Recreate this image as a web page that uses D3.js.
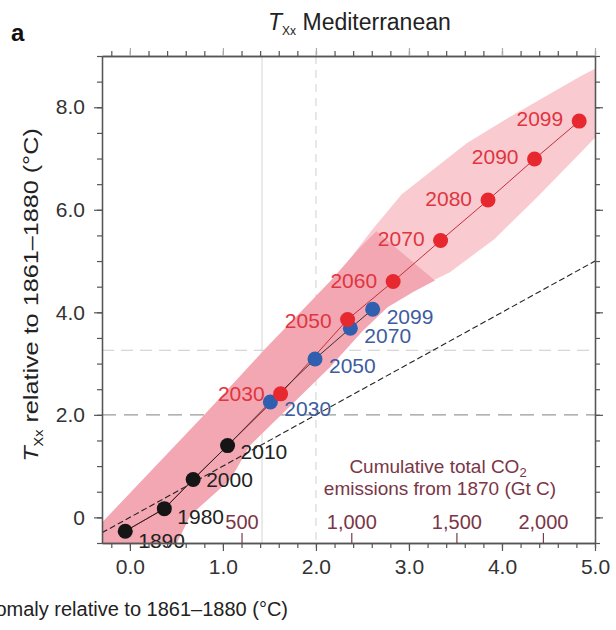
<!DOCTYPE html>
<html>
<head>
<meta charset="utf-8">
<script src="https://cdn.jsdelivr.net/npm/d3@7"></script>
<style>
  body { margin: 0; background: #fff; }
  svg { display: block; font-family: "Liberation Sans", Arial, sans-serif; }
</style>
</head>
<body>
<svg id="chart" width="616" height="630"></svg>
<script>
// historical points (black)
const histYears = ["1890", "1980", "2000", "2010"];
const histX = [-0.05, 0.37, 0.68, 1.05];
const histY = [-0.27, 0.17, 0.74, 1.40];

// high emission scenario (red)
const redYears = ["2030", "2050", "2060", "2070", "2080", "2090", "2099"];
const redX = [1.62, 2.34, 2.83, 3.34, 3.85, 4.35, 4.83];
const redY = [2.41, 3.86, 4.60, 5.40, 6.19, 6.99, 7.73];

// low emission scenario (blue)
const blueYears = ["2030", "2050", "2070", "2099"];
const blueX = [1.51, 1.99, 2.37, 2.61];
const blueY = [2.25, 3.09, 3.69, 4.06];

// model spread, historical + low part (saturated pink)
const satUpX = [-0.30, 0.81, 1.45, 2.15, 2.45, 2.65];
const satUpY = [-0.10, 2.02, 3.28, 4.60, 5.22, 5.58];
const satLoX = [-0.30, 0.48, 0.65, 1.08, 1.29, 2.15, 2.50, 2.77, 3.05, 3.28];
const satLoY = [-0.70, -0.60, 0.04, 0.74, 1.40, 2.93, 3.63, 4.10, 4.40, 4.62];

// model spread, high emission part (light pink)
const hiUpX = [2.31, 2.60, 2.92, 3.62, 4.12, 4.84, 5.05];
const hiUpY = [4.91, 5.60, 6.30, 7.30, 7.85, 8.60, 8.80];
const hiLoX = [3.10, 3.44, 3.92, 4.37, 4.80, 5.05];
const hiLoY = [4.48, 4.78, 5.43, 6.23, 7.03, 7.50];

// cumulative CO2 secondary scale (position on the temperature axis)
const co2Labels = ["500", "1,000", "1,500", "2,000"];
const co2AtT = [1.20, 2.38, 3.51, 4.44];

// reference lines
const refVx = [1.42, 2.0];
const refHy = [2.0, 3.26];

const xMajor = [0, 1, 2, 3, 4, 5];
const yMajor = [0, 2, 4, 6, 8];

const svg = d3.select("#chart");
const x = d3.scaleLinear().domain([-0.3, 5.0]).range([102, 595]);
const y = d3.scaleLinear().domain([-0.5, 9.0]).range([543, 56]);
const [x0, x1] = x.range();
const [yb, yt] = y.range();

const pts = (xs, ys) => xs.map((v, i) => [v, ys[i]]);

svg.append("defs").append("clipPath").attr("id", "plot")
  .append("rect").attr("x", x0).attr("y", yt).attr("width", x1 - x0).attr("height", yb - yt);

const plot = svg.append("g").attr("clip-path", "url(#plot)");

// reference lines
plot.append("line")
  .attr("x1", x(refVx[0])).attr("x2", x(refVx[0])).attr("y1", yt).attr("y2", yb)
  .attr("stroke", "#dcdcdc").attr("stroke-width", 1.2);
plot.append("line")
  .attr("x1", x(refVx[1])).attr("x2", x(refVx[1])).attr("y1", yt).attr("y2", yb)
  .attr("stroke", "#d8d8d8").attr("stroke-width", 1.2).attr("stroke-dasharray", "8,6");
plot.append("line")
  .attr("x1", x0).attr("x2", x1).attr("y1", y(refHy[0])).attr("y2", y(refHy[0]))
  .attr("stroke", "#9a9a9a").attr("stroke-width", 1.3).attr("stroke-dasharray", "14,8");
plot.append("line")
  .attr("x1", x0).attr("x2", x1).attr("y1", y(refHy[1])).attr("y2", y(refHy[1]))
  .attr("stroke", "#cacaca").attr("stroke-width", 1.2).attr("stroke-dasharray", "12,7");

// spread bands
const line = d3.line().x(d => x(d[0])).y(d => y(d[1]));
const poly = (ux, uy, lx, ly) => pts(ux, uy).concat(pts(lx, ly).reverse());

plot.append("path")
  .attr("d", line(poly(hiUpX, hiUpY, hiLoX, hiLoY)) + "Z")
  .attr("fill", "#f9cbd1");
plot.append("path")
  .attr("d", line(poly(satUpX, satUpY, satLoX, satLoY)) + "Z")
  .attr("fill", "#f3a7b3");

// 1:1 line
plot.append("line")
  .attr("x1", x(-0.3)).attr("y1", y(-0.3)).attr("x2", x(5)).attr("y2", y(5))
  .attr("stroke", "#222").attr("stroke-width", 1.1).attr("stroke-dasharray", "6,3");

// connecting lines
const histPts = pts(histX, histY);
plot.append("path")
  .attr("d", line(histPts.concat(pts(redX, redY))))
  .attr("fill", "none").attr("stroke", "#c2303a").attr("stroke-width", 1);
plot.append("path")
  .attr("d", line(histPts.slice(-1).concat(pts(blueX, blueY))))
  .attr("fill", "none").attr("stroke", "#333").attr("stroke-width", 1);
plot.append("path")
  .attr("d", line(histPts))
  .attr("fill", "none").attr("stroke", "#222").attr("stroke-width", 1);

// points + labels
function drawSeries(xs, ys, names, fill, textFill, place) {
  const g = svg.append("g");
  g.selectAll("circle").data(xs).join("circle")
    .attr("cx", (d) => x(d)).attr("cy", (d, i) => y(ys[i]))
    .attr("r", 7.5).attr("fill", fill);
  g.selectAll("text").data(names).join("text")
    .attr("x", (d, i) => x(xs[i]) + place.dx)
    .attr("y", (d, i) => y(ys[i]) + (place.dy[i] ?? place.dy[0]))
    .attr("dy", "0.35em")
    .attr("text-anchor", place.anchor)
    .attr("font-size", 21)
    .attr("fill", textFill)
    .text((d) => d);
}

drawSeries(histX, histY, histYears, "#151515", "#222", { dx: 13, dy: [9, 8, 0, 6], anchor: "start" });
drawSeries(blueX, blueY, blueYears, "#2f5fae", "#3e5c9f", { dx: 14, dy: [7], anchor: "start" });
drawSeries(redX, redY, redYears, "#e8282f", "#e0353f", { dx: -16, dy: [0, 1, -1, -2, -1, -2, -2], anchor: "end" });

// axes
const fmtY = (d) => (d === 0 ? "0" : d.toFixed(1));
const styleAxis = (g) => {
  g.select(".domain").attr("stroke", "#555").attr("stroke-width", 1.3);
  g.selectAll(".tick line").attr("stroke", "#555").attr("stroke-width", 1.2);
  g.selectAll(".tick text").attr("fill", "#333").attr("font-size", 21)
    .attr("font-family", "Liberation Sans, Arial, sans-serif");
};

const yMinor = d3.range(-0.5, 9.01, 0.5);
const xMinor = d3.range(-0.2, 5.01, 0.2);

svg.append("g").attr("transform", `translate(${x0},0)`)
  .call(d3.axisLeft(y).tickValues(yMinor).tickSize(5).tickSizeOuter(0).tickFormat(""))
  .call(styleAxis);
svg.append("g").attr("transform", `translate(${x0},0)`)
  .call(d3.axisLeft(y).tickValues(yMajor).tickSize(8).tickSizeOuter(0).tickPadding(9).tickFormat(fmtY))
  .call(styleAxis);
svg.append("g").attr("transform", `translate(${x1},0)`)
  .call(d3.axisRight(y).tickValues(yMinor).tickSize(5).tickSizeOuter(0).tickFormat(""))
  .call(styleAxis);
svg.append("g").attr("transform", `translate(${x1},0)`)
  .call(d3.axisRight(y).tickValues(yMajor).tickSize(8).tickSizeOuter(0).tickFormat(""))
  .call(styleAxis);

svg.append("g").attr("transform", `translate(0,${yb})`)
  .call(d3.axisBottom(x).tickValues(xMinor).tickSize(5).tickSizeOuter(0).tickFormat(""))
  .call(styleAxis);
svg.append("g").attr("transform", `translate(0,${yb})`)
  .call(d3.axisBottom(x).tickValues(xMajor).tickSize(8).tickSizeOuter(0).tickPadding(8).tickFormat(d3.format(".1f")))
  .call(styleAxis);

svg.append("g").attr("transform", `translate(0,${yt})`)
  .call(d3.axisTop(x).tickValues(xMinor).tickSize(5).tickSizeOuter(0).tickFormat(""))
  .call(styleAxis);
svg.append("g").attr("transform", `translate(0,${yt})`)
  .call(d3.axisTop(x).tickValues(xMajor).tickSize(8).tickSizeOuter(0).tickFormat(""))
  .call(styleAxis)
  .call((g) => g.selectAll(".tick line").attr("stroke", "#aaa"));

// CO2 secondary ticks, inside the bottom axis
const co2 = svg.append("g").attr("transform", `translate(0,${yb})`)
  .call(d3.axisTop(x).tickValues(co2AtT).tickSize(10).tickPadding(4)
    .tickFormat((d, i) => co2Labels[i]));
co2.select(".domain").remove();
co2.selectAll(".tick line").attr("stroke", "#7a3b4a").attr("stroke-width", 1.2);
co2.selectAll(".tick text").attr("fill", "#7a3646").attr("font-size", 20)
  .attr("font-family", "Liberation Sans, Arial, sans-serif");

// CO2 caption
const cap = svg.append("g").attr("fill", "#7a3646").attr("font-size", 19).attr("text-anchor", "middle");
const cap1 = cap.append("text").attr("x", 438).attr("y", 473);
cap1.append("tspan").text("Cumulative total CO");
cap1.append("tspan").attr("font-size", 13).attr("dy", 4).text("2");
cap.append("text").attr("x", 440).attr("y", 495).text("emissions from 1870 (Gt C)");

// titles
const title = svg.append("text").attr("x", 268).attr("y", 30).attr("font-size", 23).attr("fill", "#222");
title.append("tspan").attr("font-style", "italic").text("T");
title.append("tspan").attr("font-size", 12).attr("dy", 5).text("Xx");
title.append("tspan").attr("dy", -5).text(" Mediterranean");

svg.append("text").attr("x", 11).attr("y", 41).attr("font-size", 24).attr("font-weight", "bold")
  .attr("fill", "#111").text("a");

const yTitle = svg.append("text")
  .attr("transform", "translate(38,295) rotate(-90) scale(1.2,1)")
  .attr("text-anchor", "middle").attr("font-size", 21).attr("fill", "#222");
yTitle.append("tspan").attr("font-style", "italic").text("T");
yTitle.append("tspan").attr("font-size", 12).attr("dy", 5).text("Xx");
yTitle.append("tspan").attr("dy", -5).text(" relative to 1861–1880 (°C)");

svg.append("text").attr("x", 288).attr("y", 616).attr("text-anchor", "end")
  .attr("font-size", 20).attr("fill", "#222")
  .text("Global mean temperature anomaly relative to 1861–1880 (°C)");
</script>
</body>
</html>
